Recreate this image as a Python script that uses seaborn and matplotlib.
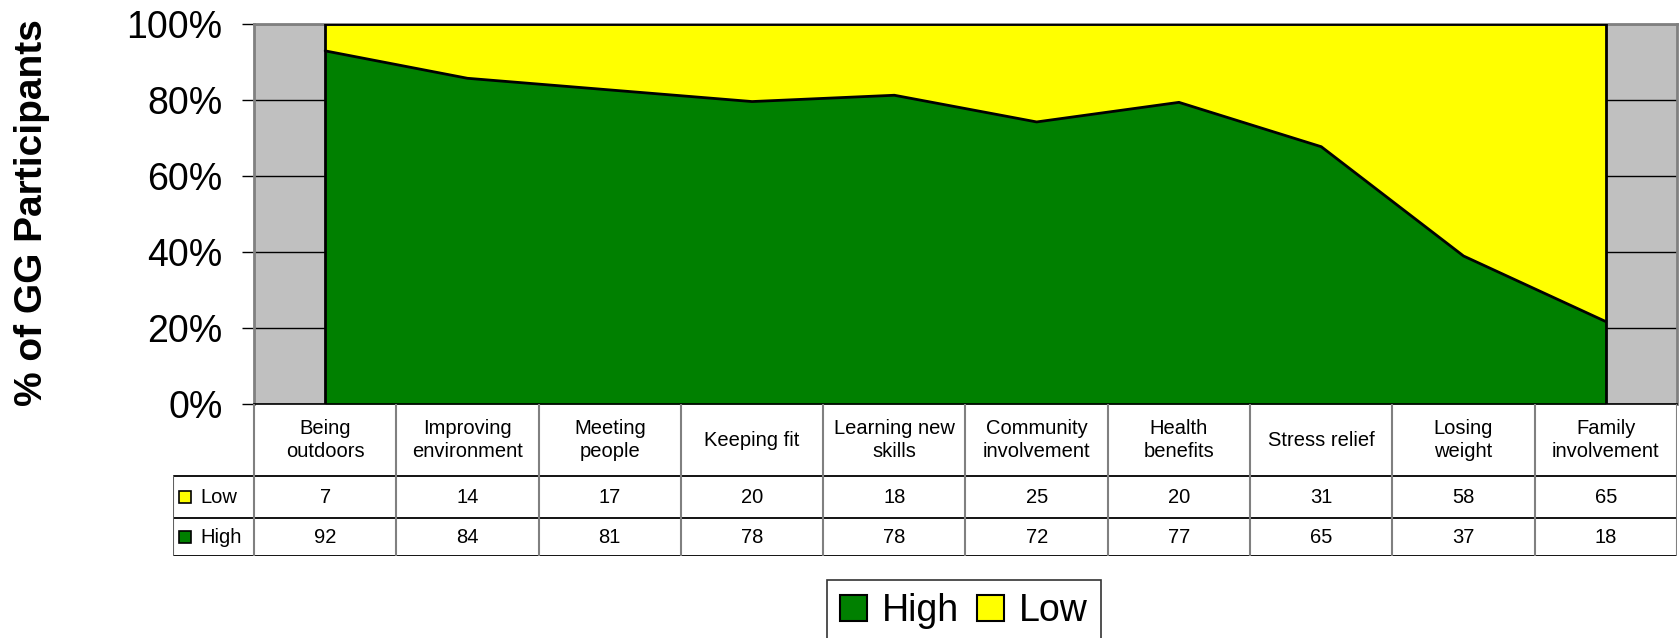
import numpy as np
import pandas as pd
import matplotlib
matplotlib.use("Agg")
import matplotlib.pyplot as plt
from matplotlib.patches import Patch
import seaborn as sns

# Survey responses: motivations of GG participants
categories = ["Being\noutdoors", "Improving\nenvironment", "Meeting\npeople",
              "Keeping fit", "Learning new\nskills", "Community\ninvolvement",
              "Health\nbenefits", "Stress relief", "Losing\nweight",
              "Family\ninvolvement"]
low = [7, 14, 17, 20, 18, 25, 20, 31, 58, 65]
high = [92, 84, 81, 78, 78, 72, 77, 65, 37, 18]
series_names = ["High", "Low"]
y_ticks = [0, 20, 40, 60, 80, 100]

GREEN = "#008000"
YELLOW = "#FFFF00"
GREY = "#C0C0C0"

sns.set_style("white")
plt.rcParams["font.family"] = ["Liberation Sans", "DejaVu Sans"]
plt.rcParams["text.color"] = "black"
plt.rcParams["axes.labelcolor"] = "black"
plt.rcParams["ytick.color"] = "black"
plt.rcParams["xtick.color"] = "black"

df = pd.DataFrame({"category": categories, "low": low, "high": high})
df["pos"] = np.arange(len(df)) + 0.5
df["high_pct"] = df["high"] / (df["high"] + df["low"]) * 100

W, H = 1681, 638
fig = plt.figure(figsize=(W / 100, H / 100), dpi=100)

# main plot area (pixel layout)
L, R, T, B = 254, 1677, 24, 404
ax = fig.add_axes([L / W, 1 - B / H, (R - L) / W, (B - T) / H])
ax.set_facecolor(GREY)
ax.set_xlim(0, len(df))
ax.set_ylim(0, 100)

# 100% stacked area
ax.fill_between(df["pos"], 0, df["high_pct"], color=GREEN, lw=0, zorder=2)
ax.fill_between(df["pos"], df["high_pct"], 100, color=YELLOW, lw=0, zorder=2)
sns.lineplot(x=df["pos"], y=df["high_pct"], ax=ax, color="black", lw=2,
             zorder=3, estimator=None, sort=False)
first, last = df["pos"].iloc[0], df["pos"].iloc[-1]
ax.plot([first, first, last, last], [0, 100, 100, 0], color="black",
        lw=2, zorder=3, solid_joinstyle="miter")

ax.set_yticks(y_ticks)
ax.set_yticklabels([f"{v}%" for v in y_ticks])
ax.yaxis.grid(True, color="black", lw=1)
ax.set_axisbelow(True)
ax.set_xticks([])
ax.set_xlabel("")
ax.set_ylabel("")
ax.tick_params(axis="y", left=True, length=8.6, width=1, color="black",
               labelsize=27, pad=14, labelcolor="black")
for side in ["top", "right", "left"]:
    ax.spines[side].set_color("#808080")
    ax.spines[side].set_linewidth(2)
ax.spines["bottom"].set_color("black")
ax.spines["bottom"].set_linewidth(1.2)
fig.text(32 / W, 1 - 213 / H, "% of GG Participants", rotation=90,
         fontsize=28, fontweight="bold", ha="center", va="center",
         color="black")

# data table beneath the chart, sharing the category positions
TL, TB = 173, 556
unit = (R - L) / len(df)
x0 = -(L - TL) / unit
tab = fig.add_axes([TL / W, 1 - TB / H, (R - TL) / W, (TB - B) / H])
tab.set_xlim(x0, len(df))
tab.set_ylim(TB, B)
tab.axis("off")

row_header_bot, row_low_bot, row_high_bot = 476, 518, 556
for yy in [row_header_bot, row_low_bot, row_high_bot]:
    tab.plot([x0, len(df)], [yy, yy], color="black", lw=1.3,
             solid_capstyle="butt")
for i in range(len(df) + 1):
    tab.plot([i, i], [B, row_high_bot], color="#808080", lw=1.5)
tab.plot([x0, x0], [row_header_bot, row_high_bot], color="#606060", lw=1.5)

FS = 14.5
y_head = (B + row_header_bot) / 2
y_low = (row_header_bot + row_low_bot) / 2
y_high = (row_low_bot + row_high_bot) / 2
for _, r in df.iterrows():
    tab.text(r["pos"], y_head, r["category"], ha="center", va="center",
             fontsize=FS, linespacing=1.3)
    tab.text(r["pos"], y_low, str(r["low"]), ha="center", va="center",
             fontsize=FS)
    tab.text(r["pos"], y_high, str(r["high"]), ha="center", va="center",
             fontsize=FS)

sw_x = x0 + 12 / unit
for yy, name, col in [(y_low, "Low", YELLOW), (y_high, "High", GREEN)]:
    tab.plot([sw_x], [yy], marker="s", markersize=9, markerfacecolor=col,
             markeredgecolor="black", markeredgewidth=1.2, clip_on=False)
    tab.text(x0 + 27 / unit, yy, name, ha="left", va="center", fontsize=FS)

# legend
handles = [Patch(facecolor=GREEN, edgecolor="black", lw=1.5),
           Patch(facecolor=YELLOW, edgecolor="black", lw=1.5)]
leg = fig.legend(handles, series_names, loc="upper center",
                 bbox_to_anchor=(964 / W, 1 - 580 / H), ncol=2,
                 fontsize=27, frameon=True, fancybox=False,
                 handlelength=0.7, handleheight=0.7, handletextpad=0.4,
                 columnspacing=0.5, borderpad=0.35, borderaxespad=0)
leg.get_frame().set_edgecolor("black")
leg.get_frame().set_linewidth(1.2)
for t in leg.get_texts():
    t.set_color("black")

fig.savefig("out.png", dpi=100)
